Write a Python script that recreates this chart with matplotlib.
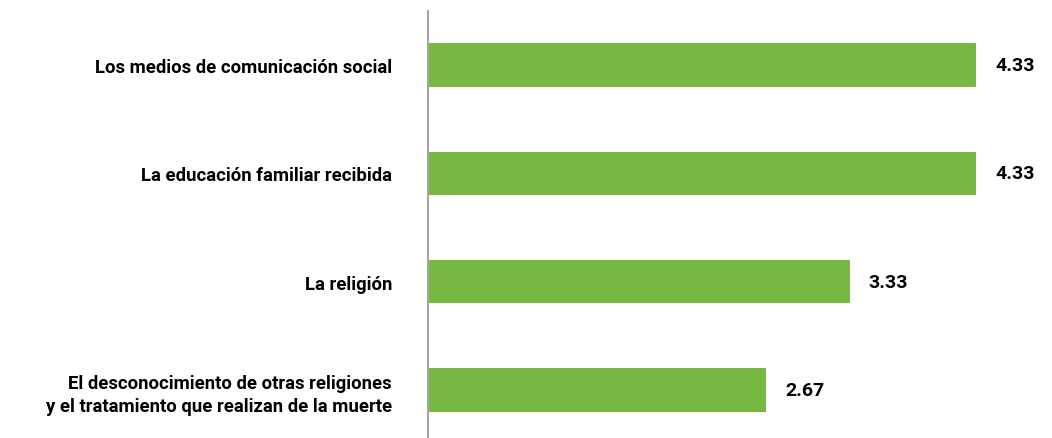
import numpy as np
import matplotlib.pyplot as plt

# datos del grafico
categorias = ['Los medios de comunicación social',
              'La educación familiar recibida',
              'La religión',
              'El desconocimiento de otras religiones\ny el tratamiento que realizan de la muerte']
valores = [4.33, 4.33, 3.33, 2.67]
etiquetas = ['4.33', '4.33', '3.33', '2.67']

verde = '#77B843'
fuente = ['Roboto', 'DejaVu Sans']

fig = plt.figure(figsize=(10.52, 4.39), dpi=100)
# eje colocado a mano para que la linea vertical quede en x~428 px
ax = fig.add_axes([428 / 1052, -6 / 439, (1040 - 428) / 1052, 433 / 439])

y = np.arange(len(categorias))
ax.barh(y, valores, height=0.4, color=verde)

for yi, v, t in zip(y, valores, etiquetas):
    ax.text(v + 0.15, yi, t, va='center', ha='left', fontsize=14,
            fontweight='bold', family=fuente)

ax.set_ylim(3.5, -0.5)
ax.set_xlim(0, (1040 - 428) / 126.6)
ax.set_yticks(y)
ax.set_yticklabels(categorias, fontsize=13.3, fontweight='bold', family=fuente,
                   linespacing=1.35)
ax.tick_params(axis='y', length=0, pad=26)
ax.set_xticks([])

for s in ['top', 'right', 'bottom']:
    ax.spines[s].set_visible(False)
ax.spines['left'].set_color('#A6A6A6')
ax.spines['left'].set_linewidth(1.5)

fig.savefig('out.png', dpi=100)
